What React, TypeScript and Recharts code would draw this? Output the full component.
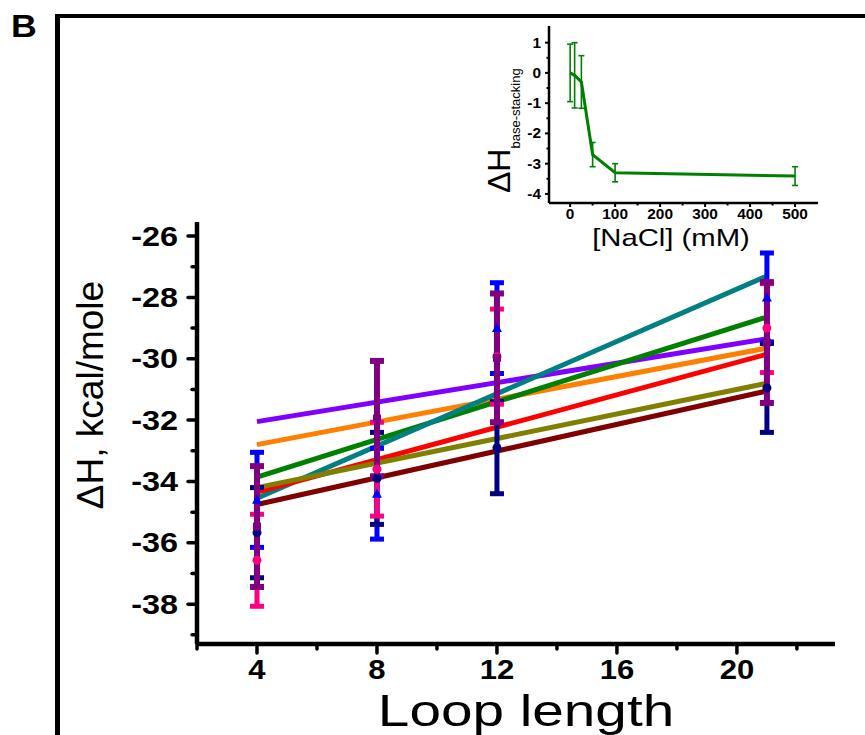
import React from 'react';
import { ComposedChart, LineChart, Line, Scatter, ErrorBar, XAxis, YAxis } from 'recharts';

const FONT = '"Liberation Sans", Arial, sans-serif';

// main panel: loop length vs ΔH
const loopLengths = [4, 8, 12, 21];
const fitEnds = [4, 21];
const xTicks = [2, 4, 6, 8, 10, 12, 14, 16, 18, 20, 22];
const yTicks = [-39, -38, -37, -36, -35, -34, -33, -32, -31, -30, -29, -28, -27, -26];

// linear fits, value at loop length 4 and 21
const fitViolet = [-32.05, -29.35];
const fitOrange = [-32.8, -29.65];
const fitGreen = [-33.86, -28.64];
const fitTeal = [-34.55, -27.3];
const fitRed = [-34.35, -29.85];
const fitOlive = [-34.2, -30.8];
const fitMaroon = [-34.75, -31.05];

// measured points with error bars
const blueMean = [-34.6, -34.4, -29.0, -28.0];
const blueErr = [1.55, 1.48, 1.48, 1.45];
const navyMean = [-35.67, -33.9, -32.9, -30.95];
const navyErr = [1.47, 1.5, 1.5, 1.45];
const pinkMean = [-36.57, -33.6, -29.93, -29.0];
const pinkErr = [1.5, 1.53, 1.55, 1.45];
const purpleMean = [-35.47, -31.95, -29.97, -29.47];
const purpleErr = [1.97, 1.88, 2.1, 1.97];

// inset: NaCl concentration vs ΔH base-stacking
const naclConc = [0, 10, 25, 50, 100, 500];
const dhStacking = [0.0, -0.08, -0.3, -2.7, -3.3, -3.41];
const dhStackingErr = [0.95, 1.08, 0.87, 0.4, 0.3, 0.31];
const insetXTicks = [0, 50, 100, 150, 200, 250, 300, 350, 400, 450, 500];
const insetYTicks = [-4, -3.5, -3, -2.5, -2, -1.5, -1, -0.5, 0, 0.5, 1];

const fits = [
  { name: 'violet', color: '#8000ff', v: fitViolet },
  { name: 'orange', color: '#ff8000', v: fitOrange },
  { name: 'green', color: '#008000', v: fitGreen },
  { name: 'teal', color: '#008080', v: fitTeal },
  { name: 'red', color: '#ff0000', v: fitRed },
  { name: 'olive', color: '#808000', v: fitOlive },
  { name: 'maroon', color: '#800000', v: fitMaroon },
].map(f => ({ ...f, data: fitEnds.map((x, i) => ({ x, y: f.v[i] })) }));

const points = [
  { name: 'blue', color: '#0000ff', mean: blueMean, err: blueErr, shape: 'tri', bw: 5 },
  { name: 'navy', color: '#000080', mean: navyMean, err: navyErr, shape: 'circle', bw: 5 },
  { name: 'pink', color: '#ff0080', mean: pinkMean, err: pinkErr, shape: 'circle', bw: 5 },
  { name: 'purple', color: '#800080', mean: purpleMean, err: purpleErr, shape: 'square', bw: 6 },
].map(s => ({ ...s, data: loopLengths.map((x, i) => ({ x, y: s.mean[i], err: s.err[i] })) }));

const insetData = naclConc.map((c, i) => ({ c, dh: dhStacking[i], err: dhStackingErr[i] }));

const MainXTick = ({ x, y, payload }: any) => {
  const major = payload.value % 4 === 0;
  return (
    <g>
      <line x1={x} x2={x} y1={y} y2={y + (major ? 9 : 5)} stroke="#000" strokeWidth={3.5} strokeLinecap="round" />
      {major && (
        <text transform={`translate(${x},${y + 35}) scale(1.15,1)`} textAnchor="middle"
          fontFamily={FONT} fontWeight="bold" fontSize={27} fill="#000">{payload.value}</text>
      )}
    </g>
  );
};

const MainYTick = ({ x, y, payload }: any) => {
  const major = payload.value % 2 === 0;
  return (
    <g>
      <line x1={x} x2={x - (major ? 9 : 5)} y1={y} y2={y} stroke="#000" strokeWidth={3.5} strokeLinecap="round" />
      {major && (
        <text transform={`translate(${x - 19},${y + 9.5}) scale(1.2,1)`} textAnchor="end"
          fontFamily={FONT} fontWeight="bold" fontSize={27} fill="#000">{payload.value}</text>
      )}
    </g>
  );
};

const InsetXTick = ({ x, y, payload }: any) => {
  const major = payload.value % 100 === 0;
  return (
    <g>
      <line x1={x} x2={x} y1={y} y2={y + (major ? 4 : 2.5)} stroke="#000" strokeWidth={2} />
      {major && (
        <text transform={`translate(${x},${y + 16}) scale(1.1,1)`} textAnchor="middle"
          fontFamily={FONT} fontWeight="bold" fontSize={14} fill="#000">
          {payload.value}
        </text>
      )}
    </g>
  );
};

const InsetYTick = ({ x, y, payload }: any) => {
  const major = Number.isInteger(payload.value);
  return (
    <g>
      <line x1={x} x2={x - (major ? 4 : 2.5)} y1={y} y2={y} stroke="#000" strokeWidth={2} />
      {major && (
        <text transform={`translate(${x - 8},${y + 5}) scale(1.1,1)`} textAnchor="end"
          fontFamily={FONT} fontWeight="bold" fontSize={14} fill="#000">
          {payload.value}
        </text>
      )}
    </g>
  );
};

const marker = (shape: string, color: string) => (p: any) => {
  const { cx, cy } = p;
  if (shape === 'tri') return <path d={`M${cx},${cy - 5}L${cx + 5},${cy + 4}L${cx - 5},${cy + 4}Z`} fill={color} />;
  if (shape === 'square') return <rect x={cx - 4} y={cy - 4} width={8} height={8} fill={color} />;
  return <circle cx={cx} cy={cy} r={4.5} fill={color} />;
};

export default function App() {
  return (
    <div style={{ position: 'absolute', left: 0, top: 0, width: 865, height: 735, background: '#fff', overflow: 'hidden' }}>
      {/* panel frame */}
      <div style={{ position: 'absolute', left: 55, top: 14, width: 820, height: 730, borderTop: '4px solid #000', borderLeft: '5px solid #000' }} />
      <svg style={{ position: 'absolute', left: 0, top: 0 }} width={60} height={50}>
        <text transform="translate(11,37) scale(1.15,1)" fontFamily={FONT} fontWeight="bold" fontSize={31} fill="#000">B</text>
      </svg>

      <div style={{ position: 'absolute', left: 0, top: 0 }}>
        <ComposedChart width={865} height={735} margin={{ top: 222, right: 30, left: 0, bottom: 0 }}>
          <XAxis dataKey="x" type="number" domain={[2, 23.27]} ticks={xTicks} height={91}
            axisLine={{ stroke: '#000', strokeWidth: 4.5 }} tickLine={false} tickSize={0} tickMargin={0}
            tick={<MainXTick />} interval={0}
            label={{ content: () => (
              <text transform="translate(526,726) scale(1.26,1)" textAnchor="middle" fontFamily={FONT} fontSize={45} fill="#000">
                Loop length
              </text>
            ) }} />
          <YAxis type="number" domain={[-39.3, -25.54]} ticks={yTicks} width={197}
            axisLine={{ stroke: '#000', strokeWidth: 4.5 }} tickLine={false} tickSize={0} tickMargin={0}
            tick={<MainYTick />} interval={0}
            label={{ content: () => (
              <text transform="translate(103,395) rotate(-90)" textAnchor="middle" fontFamily={FONT} fontSize={37} fill="#000">
                ΔH, kcal/mole
              </text>
            ) }} />
          {fits.map(f => (
            <Line key={f.name} data={f.data} dataKey="y" stroke={f.color} strokeWidth={5} dot={false}
              activeDot={false} isAnimationActive={false} />
          ))}
          {points.map(s => (
            <Scatter key={s.name} data={s.data} dataKey="y" fill={s.color} shape={marker(s.shape, s.color)}
              isAnimationActive={false}>
              <ErrorBar dataKey="err" direction="y" width={7} strokeWidth={s.bw} stroke={s.color} isAnimationActive={false} />
            </Scatter>
          ))}
        </ComposedChart>
      </div>

      <div style={{ position: 'absolute', left: 440, top: 0 }}>
        <LineChart width={425} height={260} data={insetData} margin={{ top: 26, right: 47, left: 0, bottom: 0 }}>
          <XAxis xAxisId="t" orientation="top" dataKey="c" type="number" domain={[-47, 551]} height={0}
            tick={false} tickLine={false} axisLine={{ stroke: '#000', strokeWidth: 2.5 }} />
          <XAxis dataKey="c" type="number" domain={[-47, 551]} ticks={insetXTicks} height={57} interval={0}
            axisLine={{ stroke: '#000', strokeWidth: 2.5 }} tickLine={false} tickSize={0} tickMargin={0}
            tick={<InsetXTick />}
            label={{ content: () => (
              <text transform="translate(231,246) scale(1.22,1)" textAnchor="middle" fontFamily={FONT} fontSize={24} fill="#000">
                [NaCl] (mM)
              </text>
            ) }} />
          <YAxis type="number" domain={[-4.3, 1.55]} ticks={insetYTicks} width={109} interval={0}
            axisLine={{ stroke: '#000', strokeWidth: 2.5 }} tickLine={false} tickSize={0} tickMargin={0}
            tick={<InsetYTick />}
            label={{ content: () => (
              <text transform="translate(70,193) rotate(-90)" textAnchor="start" fontFamily={FONT} fill="#000">
                <tspan fontSize={32}>ΔH</tspan>
                <tspan fontSize={13} dy={10}>base-stacking</tspan>
              </text>
            ) }} />
          <YAxis yAxisId="r" orientation="right" type="number" domain={[-4.3, 1.55]} width={0}
            tick={false} tickLine={false} axisLine={{ stroke: '#000', strokeWidth: 2.5 }} />
          <Line dataKey="dh" stroke="#008000" strokeWidth={3} dot={false} activeDot={false} isAnimationActive={false}>
            <ErrorBar dataKey="err" direction="y" width={3} strokeWidth={1.6} stroke="#008000" isAnimationActive={false} />
          </Line>
        </LineChart>
      </div>
    </div>
  );
}
